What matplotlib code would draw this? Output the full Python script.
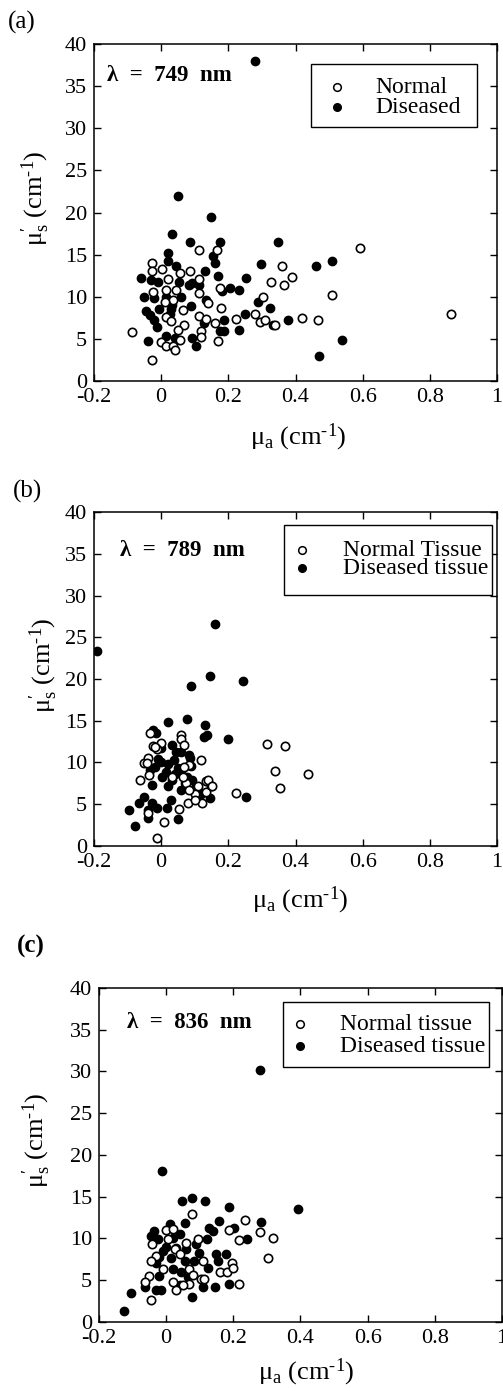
import matplotlib
matplotlib.use("Agg")
import matplotlib.pyplot as plt
from matplotlib.patches import Rectangle

plt.rcParams['font.family'] = ['Liberation Serif', 'DejaVu Serif']
plt.rcParams['mathtext.fontset'] = 'custom'
plt.rcParams['mathtext.rm'] = 'Liberation Serif'
plt.rcParams['mathtext.it'] = 'Liberation Serif:italic'
plt.rcParams['mathtext.bf'] = 'Liberation Serif:bold'
plt.rcParams['axes.unicode_minus'] = False

# axis ticks shared by all three panels
x_ticks = [-0.2, 0, 0.2, 0.4, 0.6, 0.8, 1]
x_tick_labels = ["-0.2", "0", "0.2", "0.4", "0.6", "0.8", "1"]
y_ticks = [0, 5, 10, 15, 20, 25, 30, 35, 40]
y_tick_labels = ["0", "5", "10", "15", "20", "25", "30", "35", "40"]

# (a) 749 nm
a_normal_x = [0.592, 0.112, 0.167, -0.028, -0.027, 0.002, 0.085, 0.055, 0.361, 0.391,
              0.328, 0.365, 0.02, 0.114, -0.025, 0.015, 0.045, 0.113, 0.174, 0.035,
              0.01, 0.139, 0.303, 0.509, 0.065, 0.179, 0.864, 0.015, 0.113, 0.134,
              0.159, 0.03, 0.224, 0.279, 0.294, 0.309, 0.338, 0.418, 0.468, 0.068,
              0.05, 0.055, 0.119, 0.119, 0.169, -0.087, 0.0, 0.015, 0.035, 0.04, -0.028]
a_normal_y = [15.8, 15.5, 15.6, 14.0, 13.0, 13.3, 13.1, 12.8, 13.7, 12.4,
              11.8, 11.4, 12.1, 12.1, 10.6, 10.8, 10.8, 10.4, 11.0, 9.6,
              9.4, 9.2, 10.0, 10.2, 8.4, 8.7, 7.9, 7.6, 7.7, 7.4,
              6.9, 7.1, 7.4, 7.9, 7.0, 7.3, 6.6, 7.5, 7.3, 6.7,
              6.1, 4.9, 5.9, 5.2, 4.8, 5.8, 4.6, 4.1, 4.2, 3.7, 2.5]
a_diseased_x = [0.28, 0.05, 0.148, 0.033, 0.085, 0.174, 0.348, 0.02, 0.155, 0.16,
                0.02, 0.297, 0.461, 0.51, 0.045, 0.129, -0.06, -0.03, -0.01, 0.054,
                0.169, 0.252, 0.092, 0.114, 0.084, 0.181, 0.204, 0.232, -0.052, -0.02,
                0.015, 0.06, 0.134, 0.288, 0.09, 0.03, 0.323, -0.044, -0.005, 0.025,
                -0.022, 0.251, 0.127, 0.186, 0.379, 0.333, -0.011, 0.174, 0.186, 0.232,
                0.013, 0.092, -0.04, 0.04, 0.104, 0.537, 0.471, 0.031, -0.033, 0.017]
a_diseased_y = [38.0, 22.0, 19.5, 17.5, 16.5, 16.5, 16.5, 15.2, 14.8, 14.0,
                14.2, 13.9, 13.6, 14.3, 13.6, 13.0, 12.2, 12.0, 11.8, 11.8,
                12.5, 12.2, 11.6, 11.4, 11.4, 10.7, 11.0, 10.8, 10.0, 9.8,
                10.0, 10.0, 9.6, 9.4, 8.9, 8.5, 8.7, 8.3, 8.5, 7.9,
                7.3, 7.9, 6.9, 7.3, 7.2, 6.6, 6.4, 5.9, 5.9, 6.0,
                5.4, 5.1, 4.8, 5.1, 4.1, 4.9, 3.0, 9.0, 7.8, 7.6]

# (b) 789 nm
b_normal_x = [-0.032, 0.058, 0.06, -0.002, 0.067, -0.025, -0.012, 0.316, 0.368, 0.12,
              0.339, 0.436, 0.353, -0.052, -0.039, 0.083, 0.068, -0.062, -0.037, 0.033,
              0.073, 0.134, 0.11, 0.148, 0.132, 0.1, 0.083, 0.222, 0.122, 0.08,
              0.102, 0.052, -0.039, 0.008, -0.012, -0.018, 0.064, -0.043, 0.139, 0.152]
b_normal_y = [13.5, 13.3, 12.8, 12.3, 12.1, 12.0, 11.6, 12.2, 12.0, 10.3,
              9.0, 8.6, 7.0, 9.9, 10.5, 9.7, 9.5, 7.9, 8.5, 8.3,
              7.5, 7.8, 7.2, 7.2, 6.5, 6.2, 6.7, 6.3, 5.2, 5.1,
              5.5, 4.4, 4.0, 2.9, 0.9, 11.9, 8.3, 9.9, 7.9, 7.2]
b_diseased_x = [-0.191, 0.159, 0.088, 0.144, 0.245, 0.021, 0.077, 0.13, 0.135, 0.127,
                0.2, -0.025, -0.015, 0.033, 0.044, 0.058, 0.083, -0.002, 0.086, 0.038,
                -0.032, -0.017, 0.013, 0.003, 0.033, 0.078, 0.092, -0.027, 0.058, 0.252,
                0.145, -0.052, -0.067, -0.027, 0.028, -0.097, -0.039, -0.012, 0.018, -0.04,
                0.05, -0.079, 0.0, 0.02, 0.05, 0.06, 0.1, 0.11, 0.07, 0.02,
                0.04, -0.01, 0.12, 0.09]
b_diseased_y = [23.3, 26.6, 19.2, 20.4, 19.8, 14.8, 15.2, 14.5, 13.3, 13.0,
                12.8, 13.9, 13.5, 12.1, 11.3, 11.3, 10.9, 11.7, 10.5, 10.3,
                9.1, 9.5, 8.9, 8.3, 7.9, 8.3, 7.9, 7.3, 6.7, 5.9,
                5.7, 5.9, 5.2, 5.1, 5.5, 4.3, 4.3, 4.5, 4.6, 3.3,
                3.2, 2.4, 10.0, 9.8, 9.3, 8.8, 7.0, 6.6, 7.5, 7.2,
                8.6, 10.4, 6.2, 9.6]

# (c) 836 nm
c_normal_x = [0.077, 0.236, 0.188, 0.216, 0.28, 0.317, 0.304, 0.0, 0.02, 0.094,
              -0.043, -0.03, -0.045, 0.025, -0.01, 0.159, 0.181, 0.196, 0.198, 0.111,
              0.069, 0.079, 0.104, 0.114, 0.069, 0.05, 0.03, 0.02, 0.216, -0.052,
              -0.064, -0.045, 0.04, 0.005, 0.06]
c_normal_y = [12.9, 12.2, 11.0, 9.8, 10.8, 10.1, 7.6, 11.0, 11.1, 9.9,
              9.3, 7.9, 7.3, 8.7, 6.3, 6.0, 6.0, 7.1, 6.5, 7.3,
              6.3, 5.6, 5.2, 5.1, 4.6, 4.4, 3.8, 4.8, 4.6, 5.5,
              4.8, 2.6, 8.1, 9.9, 9.5]
c_diseased_x = [0.28, -0.012, 0.048, 0.077, 0.117, 0.188, 0.394, 0.055, 0.012, 0.129,
                0.139, 0.156, 0.203, 0.283, 0.24, -0.035, -0.045, -0.025, 0.04, 0.02,
                0.121, 0.089, 0.03, 0.06, 0.099, 0.149, 0.179, 0.015, 0.055, 0.084,
                0.154, -0.03, 0.02, 0.124, 0.045, -0.02, 0.064, -0.064, -0.03, -0.015,
                0.04, 0.109, 0.144, 0.188, 0.077, -0.104, -0.126, -0.01, 0.0, -0.02]
c_diseased_y = [30.2, 18.1, 14.5, 14.9, 14.5, 13.8, 13.5, 11.9, 11.7, 11.3,
                10.9, 12.1, 11.2, 12.0, 9.9, 10.9, 10.3, 9.9, 10.5, 10.1,
                9.9, 9.3, 8.9, 8.7, 8.3, 8.1, 8.1, 7.7, 7.3, 7.3,
                7.3, 7.1, 6.3, 6.5, 6.0, 5.5, 5.4, 4.2, 3.8, 3.8,
                4.4, 4.2, 4.2, 4.6, 3.0, 3.5, 1.3, 8.5, 9.0, 7.8]

# layout per panel (axes fractions); legend box = (x0, y0, x1, y1)
panels = [
    dict(rect=[0.1869, 0.7255, 0.8012, 0.2428], tag="(a)", tag_xy=(0.016, 0.9835), tag_bold=False,
         lam="749", lam_xy=(0.032, 0.908),
         labels=["Normal", "Diseased"],
         box=(0.538, 0.754, 0.950, 0.941), mark_x=0.603, text_x=0.697, rows=(0.872, 0.813),
         ylab_xy=(-0.104, 0.543), xlab_xy=(0.506, -0.122),
         nx=a_normal_x, ny=a_normal_y, dx=a_diseased_x, dy=a_diseased_y),
    dict(rect=[0.1869, 0.3905, 0.8012, 0.2406], tag="(b)", tag_xy=(0.026, 0.646), tag_bold=False,
         lam="789", lam_xy=(0.065, 0.886),
         labels=["Normal Tissue", "Diseased tissue"],
         box=(0.471, 0.752, 0.988, 0.961), mark_x=0.516, text_x=0.618, rows=(0.886, 0.832),
         ylab_xy=(-0.084, 0.542), xlab_xy=(0.511, -0.117),
         nx=b_normal_x, ny=b_normal_y, dx=b_diseased_x, dy=b_diseased_y),
    dict(rect=[0.1968, 0.0476, 0.8012, 0.2406], tag="(c)", tag_xy=(0.034, 0.318), tag_bold=True,
         lam="836", lam_xy=(0.069, 0.898),
         labels=["Normal tissue", "Diseased tissue"],
         box=(0.457, 0.763, 0.968, 0.958), mark_x=0.499, text_x=0.598, rows=(0.892, 0.826),
         ylab_xy=(-0.114, 0.545), xlab_xy=(0.514, -0.105),
         nx=c_normal_x, ny=c_normal_y, dx=c_diseased_x, dy=c_diseased_y),
]

fig = plt.figure(figsize=(5.03, 13.88), dpi=100)

for p in panels:
    ax = fig.add_axes(p["rect"])
    ax.plot(p["dx"], p["dy"], 'o', ms=6, mfc='black', mec='black', mew=1.0, zorder=3)
    ax.plot(p["nx"], p["ny"], 'o', ms=6, mfc='white', mec='black', mew=1.2, zorder=3)
    ax.set_xlim(-0.2, 1)
    ax.set_ylim(0, 40)
    ax.set_xticks(x_ticks)
    ax.set_xticklabels(x_tick_labels)
    ax.set_yticks(y_ticks)
    ax.set_yticklabels(y_tick_labels)
    ax.tick_params(direction='in', length=5, width=1, top=True, right=True,
                   labelsize=16, pad=5)
    for s in ax.spines.values():
        s.set_linewidth(1.1)
    ax.set_xlabel('μ$_{\\mathrm{a}}$ (cm$^{\\text{-}1}$)', fontsize=19)
    ax.set_ylabel('μ$^{\\prime}_{\\mathrm{s}}$ (cm$^{\\text{-}1}$)', fontsize=19)
    ax.xaxis.set_label_coords(*p["xlab_xy"])
    ax.yaxis.set_label_coords(*p["ylab_xy"])
    ax.text(p["lam_xy"][0], p["lam_xy"][1], 'λ  =  ' + p["lam"] + '  nm',
            transform=ax.transAxes, ha='left', va='center', fontsize=16.5,
            fontweight='bold')

    # legend box drawn by hand to match the original spacing
    x0, y0, x1, y1 = p["box"]
    ax.add_patch(Rectangle((x0, y0), x1 - x0, y1 - y0, transform=ax.transAxes,
                           facecolor='white', edgecolor='black', lw=1.0, zorder=4))
    ax.plot([p["mark_x"]], [p["rows"][0]], 'o', ms=5.5, mfc='white', mec='black',
            mew=1.1, transform=ax.transAxes, zorder=5)
    ax.plot([p["mark_x"]], [p["rows"][1]], 'o', ms=5.5, mfc='black', mec='black',
            mew=1.0, transform=ax.transAxes, zorder=5)
    for lab, yy in zip(p["labels"], p["rows"]):
        ax.text(p["text_x"], yy, lab, transform=ax.transAxes, ha='left',
                va='center', fontsize=17, zorder=5)

    fig.text(p["tag_xy"][0], p["tag_xy"][1], p["tag"], ha='left', va='center',
             fontsize=18, fontweight='bold' if p["tag_bold"] else 'normal')

fig.savefig('out.png', dpi=100)
